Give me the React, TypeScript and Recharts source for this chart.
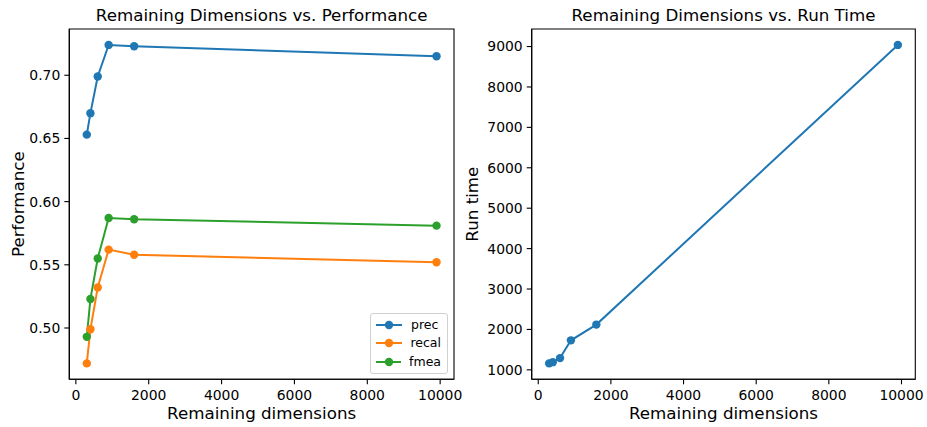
import React from 'react';
import { LineChart, Line, XAxis, YAxis, ReferenceArea, Legend } from 'recharts';

const dims = [300, 400, 600, 900, 1600, 9900];
const prec = [0.653, 0.670, 0.699, 0.724, 0.723, 0.715];
const recal = [0.472, 0.499, 0.532, 0.562, 0.558, 0.552];
const fmea = [0.493, 0.523, 0.555, 0.587, 0.586, 0.581];
const runTime = [1160, 1190, 1290, 1730, 2120, 9040];

const dimTicks = [0, 2000, 4000, 6000, 8000, 10000];
const perfTicks = [0.5, 0.55, 0.6, 0.65, 0.7];
const timeTicks = [1000, 2000, 3000, 4000, 5000, 6000, 7000, 8000, 9000];

const seriesNames = ['prec', 'recal', 'fmea'];
const seriesColors = ['#1f77b4', '#ff7f0e', '#2ca02c'];

const FONT = 'DejaVu Sans, sans-serif';
const TICK_FS = 13.9;
const LABEL_FS = 16.7;
const TITLE_FS = 16.7;
const DOT_R = 4.2;

function pad(min: number, max: number): [number, number] {
  const m = (max - min) * 0.05;
  return [min - m, max + m];
}

const perfData = dims.map((d, i) => ({ dim: d, prec: prec[i], recal: recal[i], fmea: fmea[i] }));
const timeData = dims.map((d, i) => ({ dim: d, time: runTime[i] }));

const xDomain = pad(Math.min(...dims), Math.max(...dims));
const perfDomain = pad(Math.min(...prec, ...recal, ...fmea), Math.max(...prec, ...recal, ...fmea));
const timeDomain = pad(Math.min(...runTime), Math.max(...runTime));

const tickStyle = { fill: '#000', fontSize: TICK_FS, fontFamily: FONT };
const axisLineStyle = { stroke: '#000', strokeWidth: 1.1 };

const renderLegend = (props: any) => {
  const payload = [...(props.payload || [])].sort(
    (a: any, b: any) => seriesNames.indexOf(a.value) - seriesNames.indexOf(b.value)
  );
  return (
    <div
      style={{
        border: '1px solid #d0d0d0',
        borderRadius: 3,
        background: 'rgba(255,255,255,0.8)',
        padding: '2px 6px 2px 4px',
        fontFamily: FONT,
        fontSize: 12.5,
        lineHeight: '18.3px',
        boxSizing: 'border-box',
      }}
    >
      {payload.map((p: any) => (
        <div key={p.value} style={{ display: 'flex', alignItems: 'center', height: 18.3 }}>
          <svg width={28} height={10} style={{ marginRight: 8 }}>
            <line x1={1} y1={5} x2={27} y2={5} stroke={p.color} strokeWidth={2} />
            <circle cx={14} cy={5} r={DOT_R} fill={p.color} />
          </svg>
          <span style={{ color: '#000' }}>{p.value}</span>
        </div>
      ))}
    </div>
  );
};

const Title = ({ text, left, width }: { text: string; left: number; width: number }) => (
  <div
    style={{
      position: 'absolute',
      left,
      width,
      top: 5,
      textAlign: 'center',
      fontFamily: FONT,
      fontSize: TITLE_FS,
      color: '#000',
      whiteSpace: 'nowrap',
      lineHeight: '20px',
    }}
  >
    {text}
  </div>
);

export default function App() {
  return (
    <div
      style={{
        position: 'absolute',
        left: 0,
        top: 0,
        width: 927,
        height: 427,
        background: '#fff',
        fontFamily: FONT,
        overflow: 'hidden',
      }}
    >
      <Title text="Remaining Dimensions vs. Performance" left={69.3} width={384.7} />
      <Title text="Remaining Dimensions vs. Run Time" left={531.7} width={383.6} />
      <div style={{ position: 'absolute', left: 0, top: 0 }}>
        <LineChart width={463} height={427} data={perfData} margin={{ top: 29, right: 9, bottom: 0, left: 0 }}>
          <XAxis
            type="number"
            dataKey="dim"
            domain={xDomain}
            ticks={dimTicks}
            interval={0}
            allowDataOverflow
            height={47.7}
            tick={tickStyle}
            tickLine={axisLineStyle}
            axisLine={axisLineStyle}
            tickSize={5}
            tickMargin={6}
            label={{ value: 'Remaining dimensions', position: 'insideBottom', offset: 8, fill: '#000', fontSize: LABEL_FS, fontFamily: FONT }}
          />
          <YAxis
            type="number"
            domain={perfDomain}
            ticks={perfTicks}
            interval={0}
            allowDataOverflow
            width={69.3}
            tick={tickStyle}
            tickLine={axisLineStyle}
            axisLine={axisLineStyle}
            tickSize={5}
            tickMargin={4}
            tickFormatter={(v: number) => v.toFixed(2)}
            label={{ value: 'Performance', angle: -90, position: 'insideLeft', offset: 18, fill: '#000', fontSize: LABEL_FS, fontFamily: FONT, style: { textAnchor: 'middle' } }}
          />
          <ReferenceArea x1={xDomain[0]} x2={xDomain[1]} y1={perfDomain[0]} y2={perfDomain[1]} fill="none" stroke="#000" strokeWidth={1.1} fillOpacity={0} strokeOpacity={1} ifOverflow="visible" />
          {seriesNames.map((name, i) => (
            <Line
              key={name}
              type="linear"
              dataKey={name}
              name={name}
              stroke={seriesColors[i]}
              strokeWidth={2}
              dot={{ r: DOT_R, fill: seriesColors[i], stroke: seriesColors[i], strokeWidth: 0 }}
              activeDot={false}
              isAnimationActive={false}
            />
          ))}
          <Legend
            layout="horizontal"
            verticalAlign="middle"
            align="center"
            content={renderLegend}
            wrapperStyle={{ left: 370, top: 313, width: 78, height: 60 }}
          />
        </LineChart>
      </div>
      <div style={{ position: 'absolute', left: 463, top: 0 }}>
        <LineChart width={464} height={427} data={timeData} margin={{ top: 29, right: 11.7, bottom: 0, left: 0 }}>
          <XAxis
            type="number"
            dataKey="dim"
            domain={xDomain}
            ticks={dimTicks}
            interval={0}
            allowDataOverflow
            height={47.7}
            tick={tickStyle}
            tickLine={axisLineStyle}
            axisLine={axisLineStyle}
            tickSize={5}
            tickMargin={6}
            label={{ value: 'Remaining dimensions', position: 'insideBottom', offset: 8, fill: '#000', fontSize: LABEL_FS, fontFamily: FONT }}
          />
          <YAxis
            type="number"
            domain={timeDomain}
            ticks={timeTicks}
            interval={0}
            allowDataOverflow
            width={68.7}
            tick={tickStyle}
            tickLine={axisLineStyle}
            axisLine={axisLineStyle}
            tickSize={5}
            tickMargin={4}
            label={{ value: 'Run time', angle: -90, position: 'insideLeft', offset: 9, fill: '#000', fontSize: LABEL_FS, fontFamily: FONT, style: { textAnchor: 'middle' } }}
          />
          <ReferenceArea x1={xDomain[0]} x2={xDomain[1]} y1={timeDomain[0]} y2={timeDomain[1]} fill="none" stroke="#000" strokeWidth={1.1} fillOpacity={0} strokeOpacity={1} ifOverflow="visible" />
          <Line
            type="linear"
            dataKey="time"
            name="time"
            stroke={seriesColors[0]}
            strokeWidth={2}
            dot={{ r: DOT_R, fill: seriesColors[0], stroke: seriesColors[0], strokeWidth: 0 }}
            activeDot={false}
            isAnimationActive={false}
          />
        </LineChart>
      </div>
    </div>
  );
}
